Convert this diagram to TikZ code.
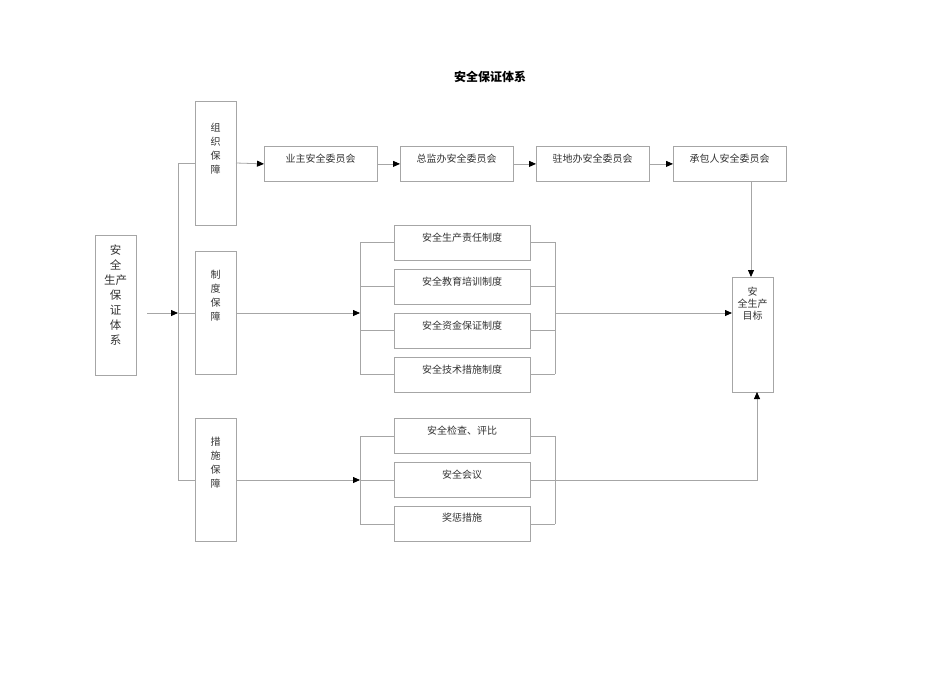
\documentclass[tikz,border=0pt]{standalone}
\usepackage{fontspec}
\setmainfont{Noto Sans CJK SC}
\usetikzlibrary{arrows.meta}
\definecolor{ln}{gray}{0.65}
\tikzset{
 bx/.style={draw=ln,line width=0.8pt,anchor=north west,inner sep=0pt},
 ar/.style={draw=ln,line width=0.8pt,-{Triangle[length=7pt,width=6pt,color=black]}},
 ln/.style={draw=ln,line width=0.8pt},
 tx/.style={font=\fontsize{10}{12}\selectfont,text=black!80,align=center,anchor=north}
}
\begin{document}
\begin{tikzpicture}[x=1pt,y=-1pt]
\useasboundingbox (0,0) rectangle (950,672);
\node[font=\bfseries\fontsize{12}{14}\selectfont] (title) at (490,77) {安全保证体系};
% left
\node[bx,minimum width=41pt,minimum height=140pt] (L) at (95,235) {};
\node[tx,font=\fontsize{11.5}{15}\selectfont] (Lt) at (115.5,241) {安\\全\\生产\\保\\证\\体\\系};
% column boxes
\node[bx,minimum width=41pt,minimum height=124pt] (A) at (195,101) {};
\node[tx,font=\fontsize{10}{14}\selectfont] at (215.5,120) {组\\织\\保\\障};
\node[bx,minimum width=41pt,minimum height=123pt] (B) at (195,251) {};
\node[tx,font=\fontsize{10}{14}\selectfont] at (215.5,267) {制\\度\\保\\障};
\node[bx,minimum width=41pt,minimum height=123pt] (C) at (195,418) {};
\node[tx,font=\fontsize{10}{14}\selectfont] at (215.5,434) {措\\施\\保\\障};
\coordinate (bus) at (178,313);
\draw[ar] (147,313) -- (bus);
\draw[ln] (178,163) -- (178,480);
\draw[ln] (178,163) -- (195,163);
\draw[ln] (178,313) -- (195,313);
\draw[ln] (178,480) -- (195,480);
% top row
\foreach \n/\x/\t in {T1/264/业主安全委员会,T2/400/总监办安全委员会,T3/536/驻地办安全委员会,T4/673/承包人安全委员会}{
 \node[bx,minimum width=113pt,minimum height=35pt] (\n) at (\x,146) {};
 \node[tx] at (\x+56.5,150) {\t};
}
\draw[ar] (236,163) -- (T1.west);
\draw[ar] (T1.east) -- (T2.west);
\draw[ar] (T2.east) -- (T3.west);
\draw[ar] (T3.east) -- (T4.west);
% target
\node[bx,minimum width=41pt,minimum height=115pt] (G) at (732,277) {};
\node[tx,font=\fontsize{10}{12}\selectfont] at (752.5,284) {安\\全生产\\目标};
\draw[ar] (751,181) -- (751,277);
% middle group
\foreach \n/\y/\t in {M1/225/安全生产责任制度,M2/269/安全教育培训制度,M3/313/安全资金保证制度,M4/357/安全技术措施制度}{
 \node[bx,minimum width=136pt,minimum height=35pt] (\n) at (394,\y) {};
 \node[tx] at (462,\y+4) {\t};
 \draw[ln] (360,\y+17) -- (394,\y+17);
 \draw[ln] (530,\y+17) -- (555,\y+17);
}
\draw[ln] (360,242) -- (360,374);
\draw[ln] (555,242) -- (555,374);
\draw[ar] (236,313) -- (360,313);
\draw[ar] (555,313) -- (G.west |- 0,313);
% bottom group
\foreach \n/\y/\t in {N1/418/安全检查、评比,N2/462/安全会议,N3/506/奖惩措施}{
 \node[bx,minimum width=136pt,minimum height=35pt] (\n) at (394,\y) {};
 \node[tx] at (462,\y+4) {\t};
 \draw[ln] (360,\y+18) -- (394,\y+18);
 \draw[ln] (530,\y+18) -- (555,\y+18);
}
\draw[ln] (360,436) -- (360,524);
\draw[ln] (555,436) -- (555,524);
\draw[ar] (236,480) -- (360,480);
\draw[ar] (555,480) -- (757,480) -- (757,392);
\end{tikzpicture}
\end{document}
